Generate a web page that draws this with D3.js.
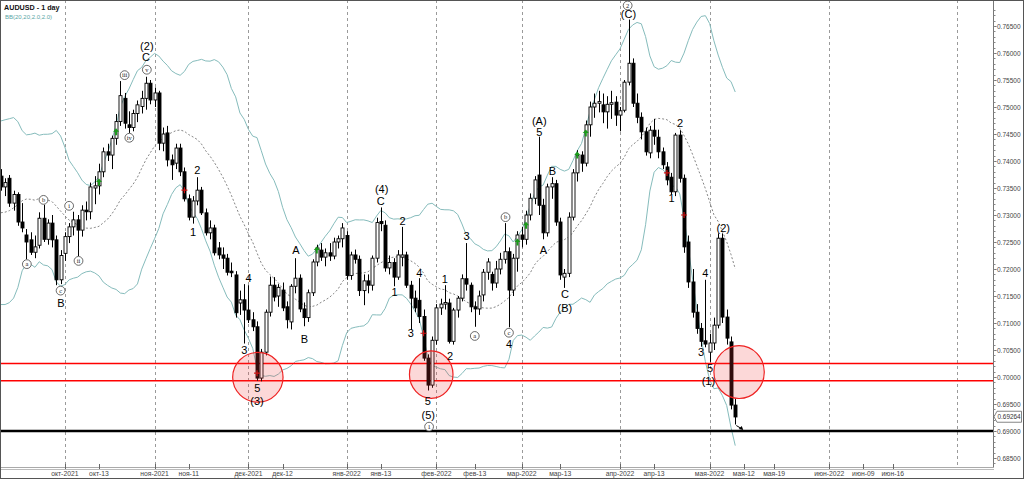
<!DOCTYPE html>
<html><head><meta charset="utf-8">
<script src="https://cdn.jsdelivr.net/npm/d3@7/dist/d3.min.js"></script>
<style>body{margin:0;background:#fff}svg{display:block}</style>
</head><body>
<svg id="c" width="1024" height="479"></svg>
<script>
// ---------------- DATA ----------------
const symbolTitle = "AUDUSD - 1 day";
const indicatorTitle = "BB(20,20,2.0,2.0)";
// closes of the 19 sessions before the first visible bar (for the 20-period band)
const warmupCloses = [.7338,.7267,.7233,.7165,.7134,.7188,.7240,.7275,.7230,.7298,.7300,.7313,.7348,.7407,.7435,.7437,.7376,.7367,.7380];
const opens = [.7372,.7352,.7368,.7322,.7338,.7287,.7263,.7254,.7231,.7244,.7294,.7255,.7285,.7254,.7180,.7229,.7260,.7278,.7291,.7272,.7309,.7306,.7350,.7354,.7380,.7417,.7411,.7442,.7473,.7516,.7467,.7462,.7488,.7501,.7516,.7544,.7513,.7526,.7433,.7452,.7402,.7396,.7424,.7380,.7330,.7296,.7326,.7346,.7304,.7267,.7276,.7239,.7226,.7220,.7196,.7189,.7137,.7143,.7124,.7106,.7093,.6998,.7046,.7120,.7170,.7150,.7161,.7130,.7102,.7168,.7183,.7126,.7110,.7156,.7213,.7235,.7222,.7230,.7224,.7250,.7256,.7262,.7188,.7226,.7218,.7160,.7178,.7170,.7220,.7288,.7281,.7202,.7212,.7185,.7222,.7226,.7170,.7146,.7142,.7112,.7035,.6985,.7068,.7128,.7135,.7137,.7066,.7124,.7146,.7182,.7170,.7130,.7126,.7152,.7194,.7190,.7174,.7200,.7218,.7232,.7161,.7220,.7263,.7255,.7300,.7331,.7374,.7318,.7267,.7352,.7358,.7287,.7185,.7192,.7296,.7378,.7411,.7396,.7467,.7500,.7507,.7504,.7491,.7505,.7509,.7485,.7494,.7546,.7581,.7507,.7481,.7454,.7415,.7457,.7444,.7417,.7389,.7370,.7343,.7448,.7368,.7250,.7176,.7120,.7090,.7067,.7046,.7063,.7096,.7257,.7111,.7065,.6948];
const highs = [.7385,.7368,.7374,.7345,.7342,.7322,.7274,.7268,.7262,.7305,.7319,.7292,.7300,.7262,.7235,.7268,.7285,.7306,.7300,.7318,.7325,.7360,.7372,.7395,.7425,.7432,.7447,.7487,.7548,.7526,.7492,.7495,.7512,.7530,.7556,.7550,.7536,.7530,.7462,.7465,.7412,.7432,.7432,.7388,.7338,.7335,.7370,.7352,.7312,.7290,.7282,.7250,.7240,.7228,.7212,.7196,.7160,.7172,.7170,.7120,.7103,.7052,.7125,.7186,.7185,.7172,.7175,.7140,.7172,.7220,.7190,.7138,.7162,.7218,.7245,.7248,.7238,.7248,.7258,.7262,.7285,.7270,.7232,.7236,.7225,.7190,.7190,.7225,.7295,.7314,.7290,.7225,.7220,.7235,.7278,.7232,.7178,.7160,.7183,.7125,.7042,.7075,.7135,.7145,.7170,.7145,.7128,.7150,.7190,.7248,.7175,.7140,.7160,.7200,.7220,.7195,.7215,.7230,.7285,.7240,.7228,.7270,.7278,.7308,.7340,.7372,.7445,.7330,.7358,.7370,.7365,.7295,.7200,.7305,.7385,.7420,.7418,.7475,.7510,.7525,.7530,.7525,.7520,.7530,.7520,.7500,.7550,.7662,.7590,.7525,.7490,.7462,.7465,.7478,.7458,.7425,.7398,.7378,.7452,.7457,.7375,.7262,.7200,.7135,.7100,.7180,.7080,.7110,.7266,.7266,.7125,.7075,.6960];
const lows = [.7345,.7335,.7315,.7308,.7280,.7268,.7218,.7226,.7220,.7238,.7250,.7245,.7240,.7170,.7172,.7215,.7248,.7262,.7224,.7260,.7290,.7292,.7320,.7338,.7370,.7400,.7385,.7430,.7465,.7460,.7452,.7455,.7472,.7488,.7495,.7505,.7500,.7420,.7418,.7390,.7365,.7385,.7372,.7325,.7290,.7284,.7318,.7300,.7262,.7255,.7225,.7218,.7200,.7188,.7185,.7110,.7115,.7062,.7100,.7085,.6993,.6992,.7040,.7112,.7140,.7130,.7122,.7090,.7088,.7155,.7120,.7094,.7102,.7150,.7205,.7215,.7205,.7215,.7218,.7238,.7240,.7180,.7180,.7210,.7150,.7133,.7155,.7160,.7212,.7270,.7195,.7190,.7168,.7180,.7205,.7165,.7087,.7120,.7100,.7030,.6975,.6980,.7060,.7115,.7125,.7062,.7060,.7110,.7140,.7160,.7120,.7093,.7115,.7140,.7180,.7160,.7165,.7190,.7210,.7092,.7150,.7195,.7240,.7245,.7290,.7320,.7300,.7255,.7260,.7330,.7280,.7180,.7165,.7185,.7290,.7362,.7380,.7390,.7445,.7480,.7490,.7470,.7460,.7478,.7465,.7455,.7490,.7540,.7500,.7470,.7440,.7410,.7405,.7430,.7405,.7385,.7355,.7338,.7335,.7360,.7230,.7165,.7110,.7080,.7056,.7055,.7028,.7050,.7090,.7100,.7060,.6940,.6912];
const closes = [.7352,.7360,.7322,.7338,.7287,.7276,.7250,.7231,.7241,.7294,.7255,.7285,.7254,.7180,.7225,.7260,.7278,.7291,.7272,.7309,.7306,.7352,.7354,.7380,.7417,.7411,.7442,.7473,.7521,.7470,.7462,.7488,.7504,.7516,.7544,.7513,.7526,.7433,.7450,.7402,.7393,.7424,.7380,.7330,.7296,.7326,.7346,.7304,.7267,.7276,.7230,.7226,.7220,.7194,.7193,.7119,.7143,.7124,.7106,.7093,.6998,.7046,.7120,.7170,.7148,.7166,.7128,.7106,.7168,.7183,.7126,.7110,.7156,.7213,.7239,.7222,.7230,.7224,.7250,.7256,.7276,.7188,.7226,.7218,.7160,.7178,.7170,.7220,.7286,.7284,.7202,.7212,.7185,.7226,.7226,.7170,.7146,.7128,.7112,.7035,.6985,.7068,.7128,.7135,.7138,.7066,.7124,.7146,.7182,.7172,.7130,.7126,.7150,.7194,.7213,.7174,.7200,.7218,.7232,.7161,.7220,.7263,.7255,.7300,.7331,.7365,.7318,.7267,.7352,.7358,.7287,.7189,.7192,.7296,.7378,.7410,.7396,.7467,.7500,.7507,.7510,.7491,.7505,.7508,.7485,.7493,.7546,.7581,.7507,.7481,.7454,.7417,.7457,.7446,.7417,.7393,.7365,.7343,.7448,.7368,.7241,.7176,.7120,.7090,.7066,.7061,.7063,.7096,.7257,.7111,.7072,.6948,.6926];

const priceTicks = [0.685,0.690,0.695,0.700,0.705,0.710,0.715,0.720,0.725,0.730,0.735,0.740,0.745,0.750,0.755,0.760,0.765];
const timeLabels = ["окт-2021","окт-13","ноя-2021","ноя-11","дек-2021","дек-12","янв-2022","янв-13","фев-2022","фев-13","мар-2022","мар-13","апр-2022","апр-13","мая-2022","мая-12","мая-19","июн-2022","июн-09","июн-16"];
const timeLabelBars = [15,23,36,44,58,66,81,89,102,111,122,131,145,153,166,174,181.1,194,202,208.9];
const periodSeparatorBars = [15,36,58,81,102,122,145,166,194,224];

const supportLevels = [0.7025, 0.6993];
const targetLevel = 0.6900;
const currentPrice = 0.69264;

// wave labels: text, bar position, price, circled?
const waveText  = ["(2)","C","v","iii","iv","i","ii","b","a","c","B","2","1","4","3","5","(3)","A","B","(4)","C","2","1","4","3","5","(5)","1","1","2","3","a","b","c","4","A","C","(B)","(A)","5","B","2","(C)","2","1","4","3","5","(1)","(2)"];
const waveBar   = [34.2,34.0,34.2,29.0,30.1,16.0,18.2,10.0,6.1,14.0,14.1,46.0,45.0,58.0,57.0,60.1,60.0,69.1,71.1,89.2,89.0,94.1,92.2,98.0,96.0,100.0,100.1,100.3,104.0,105.2,109.1,111.0,118.2,119.0,119.0,127.1,132.1,132.1,126.1,126.1,129.2,146.8,147.0,159.1,157.1,165.0,164.0,166.1,165.7,169.2];
const wavePrice = [.7613,.7592,.7569,.7559,.7443,.7317,.7215,.7328,.7209,.7160,.7137,.7383,.7269,.7183,.7050,.6979,.6956,.7235,.7070,.7348,.7326,.7289,.7158,.7192,.7081,.6956,.6930,.6908,.7181,.7039,.7261,.7076,.7296,.7082,.7061,.7235,.7153,.7128,.7475,.7453,.7381,.7688,.7672,.7470,.7331,.7192,.7047,.7017,.6993,.7276];
const waveCircled = [0,0,1,1,1,1,1,1,1,1,0,0,0,0,0,0,0,0,0,0,0,0,0,0,0,0,0,1,0,0,0,1,1,1,0,0,0,0,0,0,0,1,0,0,0,0,0,0,0,0];

// signal arrows
const buyBars = [23,27,74,121,123,135,137];
const buyPrices = [.7361,.7454,.7235,.7250,.7281,.7411,.7452];
const sellBars = [43,60,99,156,160];
const sellPrices = [.7346,.7007,.7081,.7378,.7300];

// highlighted zones: bar, price, radius in bars, radius in price
const zoneBars = [60.2,100.8,172.9];
const zonePrices = [.69995,.70045,.70092];
const zoneRadBars = [5.9,5.1,5.9];
const zoneRadPrices = [.0046,.0044,.0049];

// ---------------- DRAW ----------------
const W = 1024, H = 479;
const plotR = 993, plotB = 467;
const FONT = "Liberation Sans, Arial, sans-serif";
const svg = d3.select("#c");
const x = d3.scaleLinear().domain([0, 232.36]).range([0.8, 993]);
const y = d3.scaleLinear().domain([0.685, 0.765]).range([458, 26]);
const n = closes.length;

svg.append("rect").attr("width",W).attr("height",H).attr("fill","#fff");

const plot = svg.append("g");
svg.append("clipPath").attr("id","pc").append("rect").attr("x",0).attr("y",0).attr("width",plotR).attr("height",plotB);
plot.attr("clip-path","url(#pc)");

// period separators
plot.selectAll("line.sep").data(periodSeparatorBars).join("line")
  .attr("x1",d=>Math.round(x(d))+0.5).attr("x2",d=>Math.round(x(d))+0.5)
  .attr("y1",0).attr("y2",plotB).attr("stroke","#9a9a9a").attr("stroke-width",1)
  .attr("stroke-dasharray","3,3");

// Bollinger bands (20, 2.0)
const all = warmupCloses.concat(closes);
const bb = [];
for (let i = 0; i < n; i++) {
  const w = all.slice(i, i + 20);
  const m = d3.mean(w);
  const sd = Math.sqrt(d3.mean(w, v => (v - m) * (v - m)));
  bb.push({i, m, u: m + 2 * sd, l: m - 2 * sd});
}
const lineOf = key => d3.line().x(d => x(d.i)).y(d => y(d[key]));
plot.append("path").datum(bb).attr("d", lineOf("u")).attr("fill","none").attr("stroke","#86bcbc").attr("stroke-width",1);
plot.append("path").datum(bb).attr("d", lineOf("l")).attr("fill","none").attr("stroke","#86bcbc").attr("stroke-width",1);
plot.append("path").datum(bb).attr("d", lineOf("m")).attr("fill","none").attr("stroke","#777").attr("stroke-width",0.9).attr("stroke-dasharray","2,2");

// horizontal levels
plot.selectAll("line.sup").data(supportLevels).join("line")
  .attr("x1",0).attr("x2",plotR).attr("y1",d=>y(d)).attr("y2",d=>y(d))
  .attr("stroke","#ff0000").attr("stroke-width",1.6);
plot.append("line").attr("x1",0).attr("x2",plotR).attr("y1",y(targetLevel)).attr("y2",y(targetLevel))
  .attr("stroke","#000").attr("stroke-width",2.6);

// candles
const idx = d3.range(n);
const cg = plot.append("g");
cg.selectAll("line.wick").data(idx).join("line")
  .attr("x1",i=>Math.round(x(i))+0.5).attr("x2",i=>Math.round(x(i))+0.5)
  .attr("y1",i=>y(highs[i])).attr("y2",i=>y(lows[i]))
  .attr("stroke","#000").attr("stroke-width",1);
cg.selectAll("rect.body").data(idx).join("rect")
  .attr("x",i=>Math.round(x(i))-1)
  .attr("width",3)
  .attr("y",i=>y(Math.max(opens[i],closes[i])))
  .attr("height",i=>Math.max(1, Math.abs(y(opens[i])-y(closes[i]))))
  .attr("fill",i=>closes[i]>=opens[i]?"#fff":"#000")
  .attr("stroke","#000").attr("stroke-width",0.9);

// signal arrows
const bg = plot.append("g");
bg.selectAll("path.buy").data(d3.range(buyBars.length)).join("path")
  .attr("transform",k=>`translate(${x(buyBars[k])},${y(buyPrices[k])})`)
  .attr("d","M0,-3.5 L3,0 L1,0 L1,3.5 L-1,3.5 L-1,0 L-3,0 Z")
  .attr("fill","#1a9a1a");
bg.selectAll("path.sell").data(d3.range(sellBars.length)).join("path")
  .attr("transform",k=>`translate(${x(sellBars[k])},${y(sellPrices[k])})`)
  .attr("d","M-3,-0.6 L3,-0.6 L3,0.6 L-3,0.6 Z M-0.6,-3 L0.6,-3 L0.6,3 L-0.6,3 Z")
  .attr("fill","#cc1010");

// zones
plot.selectAll("ellipse.zone").data(d3.range(zoneBars.length)).join("ellipse")
  .attr("cx",k=>x(zoneBars[k])).attr("cy",k=>y(zonePrices[k]))
  .attr("rx",k=>x(zoneBars[k]+zoneRadBars[k])-x(zoneBars[k]))
  .attr("ry",k=>y(zonePrices[k]-zoneRadPrices[k])-y(zonePrices[k]))
  .attr("fill","rgba(240,60,60,0.2)").attr("stroke","#ee2222").attr("stroke-width",1.2);

// last-price arrow
const la = plot.append("g");
la.append("line").attr("x1",x(n-1)+1).attr("y1",y(lows[n-1])+1).attr("x2",x(n-1)+7).attr("y2",y(targetLevel)-2)
  .attr("stroke","#000").attr("stroke-width",1);
la.append("path").attr("transform",`translate(${x(n-1)+8},${y(targetLevel)-1})`)
  .attr("d","M0,0 L-4.5,-1 L-1.5,-4 Z").attr("fill","#000");

// wave labels
const wg = plot.append("g").attr("font-family",FONT);
d3.range(waveText.length).forEach(k => {
  const cx = x(waveBar[k]), cy = y(wavePrice[k]);
  if (waveCircled[k]) {
    wg.append("circle").attr("cx",cx).attr("cy",cy).attr("r",4.4)
      .attr("fill","#fff").attr("stroke","#444").attr("stroke-width",0.8);
    wg.append("text").attr("x",cx).attr("y",cy+2.2).attr("text-anchor","middle")
      .attr("font-family","Liberation Serif, serif").attr("font-size",6.5).attr("fill","#222").text(waveText[k]);
  } else {
    wg.append("text").attr("x",cx).attr("y",cy+4).attr("text-anchor","middle")
      .attr("font-size",11).attr("fill","#000").text(waveText[k]);
  }
});

// axes frame
svg.append("line").attr("x1",plotR+0.5).attr("x2",plotR+0.5).attr("y1",0).attr("y2",plotB+1).attr("stroke","#777");
svg.append("line").attr("x1",0).attr("x2",plotR+1).attr("y1",plotB+0.5).attr("y2",plotB+0.5).attr("stroke","#aaa");
svg.append("line").attr("x1",0).attr("x2",plotR+1).attr("y1",plotB+2.5).attr("y2",plotB+2.5).attr("stroke","#bbb");

// price axis
const yAxis = d3.axisRight(y).tickValues(priceTicks).tickSize(3).tickFormat(d3.format(".5f"));
const ya = svg.append("g").attr("transform",`translate(${plotR+0.5},0)`).call(yAxis);
ya.select(".domain").remove();
ya.selectAll("text").attr("font-family",FONT).attr("font-size",6.5).attr("fill","#444").attr("x",3.5);
ya.selectAll("line").attr("stroke","#666");
const minor = d3.range(0.684, 0.7685, 0.001);
svg.append("g").selectAll("line").data(minor).join("line")
  .attr("x1",plotR+0.5).attr("x2",plotR+2.5).attr("y1",d=>Math.round(y(d))+0.5).attr("y2",d=>Math.round(y(d))+0.5)
  .attr("stroke","#888");

// current price tag
const cp = y(currentPrice);
svg.append("path").attr("d",`M${plotR+1},${cp} L${plotR+4},${cp-5.5} L1021.5,${cp-5.5} L1021.5,${cp+5.5} L${plotR+4},${cp+5.5} Z`)
  .attr("fill","#fff").attr("stroke","#666").attr("stroke-width",0.8);
svg.append("text").attr("x",plotR+4.5).attr("y",cp+2.3).attr("font-family",FONT)
  .attr("font-size",6.4).attr("fill","#333").text(d3.format(".5f")(currentPrice));

// time axis
const tg = svg.append("g");
tg.selectAll("line").data(timeLabelBars).join("line")
  .attr("x1",d=>Math.round(x(d))+0.5).attr("x2",d=>Math.round(x(d))+0.5)
  .attr("y1",plotB-3).attr("y2",plotB+2).attr("stroke","#666");
tg.selectAll("text").data(d3.range(timeLabels.length)).join("text")
  .attr("x",k=>x(timeLabelBars[k])).attr("y",476).attr("text-anchor","middle")
  .attr("font-family",FONT).attr("font-size",6.8).attr("fill","#444")
  .text(k=>timeLabels[k]);

// titles
svg.append("text").attr("x",4).attr("y",9.5).attr("font-family",FONT)
  .attr("font-size",7.2).attr("font-weight","bold").attr("fill","#111").text(symbolTitle);
svg.append("text").attr("x",5).attr("y",18.5).attr("font-family",FONT)
  .attr("font-size",6).attr("fill","#5aa6a6").text(indicatorTitle);

// outer frame
svg.append("rect").attr("x",0.5).attr("y",0.5).attr("width",W-1).attr("height",H-1)
  .attr("fill","none").attr("stroke","#555");
</script>
</body></html>
